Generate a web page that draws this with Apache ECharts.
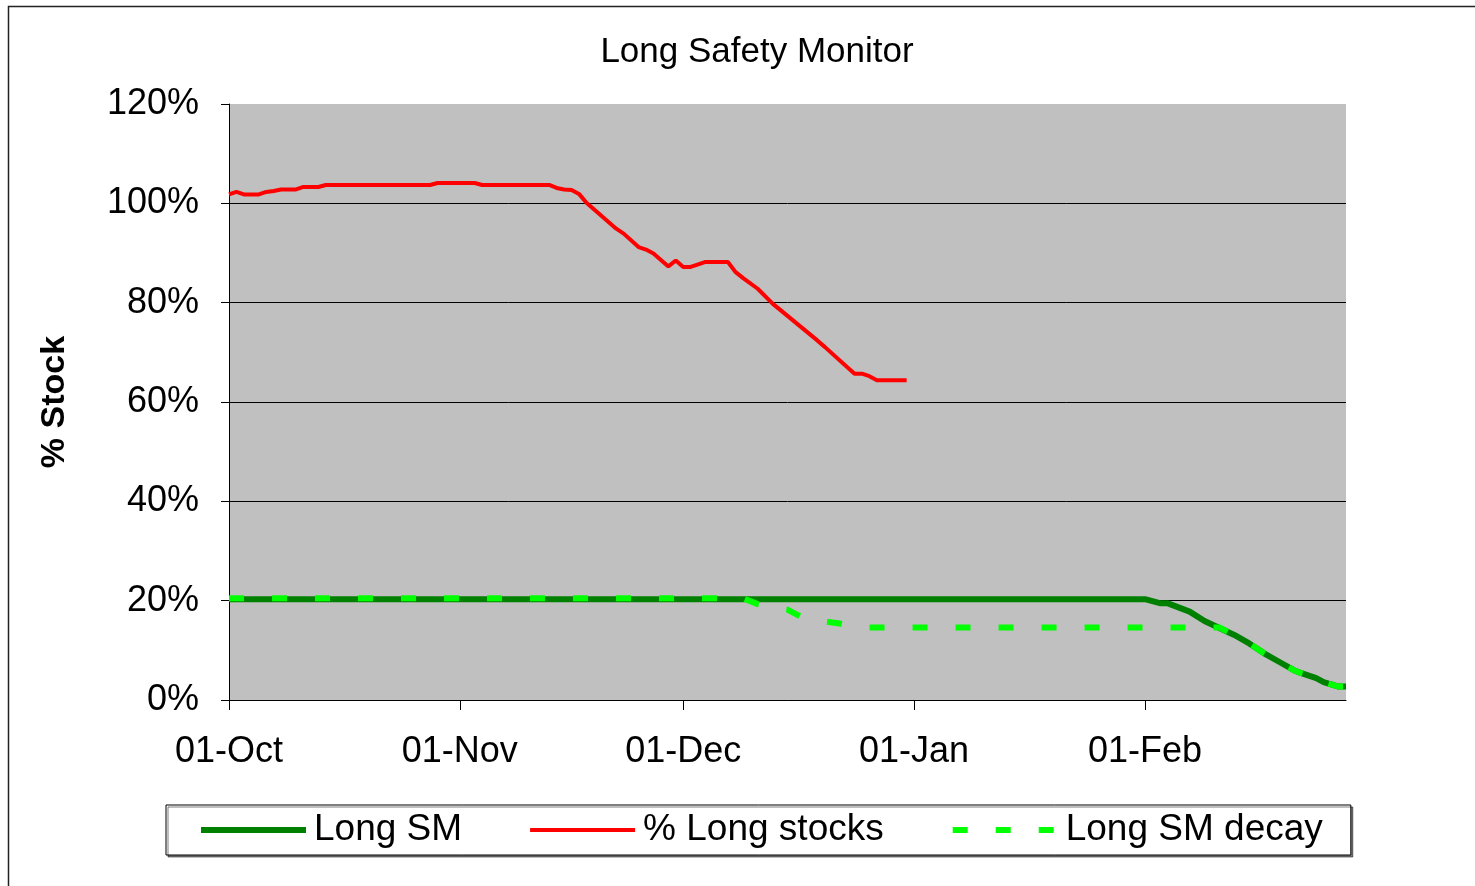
<!DOCTYPE html>
<html>
<head>
<meta charset="utf-8">
<title>Long Safety Monitor</title>
<script src="https://cdn.jsdelivr.net/npm/echarts@6/dist/echarts.min.js"></script>
<style>
  html, body { margin: 0; padding: 0; background: #fff; }
  #chart { width: 1475px; height: 886px; }
</style>
</head>
<body>
<div id="chart"></div>
<script>
// daily categories 01-Oct .. 28-Feb
var months = [['Oct', 31], ['Nov', 30], ['Dec', 31], ['Jan', 31], ['Feb', 28]];
var days = [];
months.forEach(function (m) {
  for (var d = 1; d <= m[1]; d++) {
    days.push((d < 10 ? '0' : '') + d + '-' + m[0]);
  }
});
var tickLabels = ['01-Oct', '01-Nov', '01-Dec', '01-Jan', '01-Feb'];

// Long SM (%)
var smDates  = ['01-Oct', '01-Feb', '03-Feb', '04-Feb', '07-Feb', '09-Feb', '10-Feb', '13-Feb',
                '15-Feb', '17-Feb', '19-Feb', '21-Feb', '22-Feb', '24-Feb', '25-Feb', '27-Feb', '28-Feb'];
var smValues = [20.3, 20.3, 19.5, 19.5, 17.8, 15.9, 15.2, 13.1,
                11.4, 9.4, 7.7, 6.0, 5.4, 4.4, 3.6, 2.7, 2.7];

// % Long stocks
var stockDates  = ['01-Oct', '02-Oct', '03-Oct', '05-Oct', '06-Oct', '07-Oct', '08-Oct', '10-Oct',
                   '11-Oct', '13-Oct', '14-Oct', '28-Oct', '29-Oct', '03-Nov', '04-Nov', '13-Nov',
                   '14-Nov', '15-Nov', '16-Nov', '17-Nov', '18-Nov', '22-Nov', '23-Nov', '25-Nov',
                   '26-Nov', '27-Nov', '29-Nov', '30-Nov', '01-Dec', '02-Dec', '04-Dec', '07-Dec',
                   '08-Dec', '09-Dec', '11-Dec', '13-Dec', '19-Dec', '20-Dec', '24-Dec', '25-Dec',
                   '26-Dec', '27-Dec', '31-Dec'];
var stockValues = [101.8, 102.3, 101.8, 101.8, 102.3, 102.5, 102.8, 102.8,
                   103.3, 103.3, 103.7, 103.7, 104.1, 104.1, 103.7, 103.7,
                   103.1, 102.8, 102.7, 101.9, 100.1, 94.9, 93.9, 91.2,
                   90.7, 89.9, 87.3, 88.5, 87.2, 87.2, 88.2, 88.2,
                   86.2, 85.0, 82.8, 79.8, 72.4, 71.1, 65.7, 65.7,
                   65.2, 64.4, 64.4];

// Long SM decay (%)
var decayDates  = ['01-Oct', '09-Dec', '11-Dec', '13-Dec', '15-Dec', '17-Dec', '20-Dec', '22-Dec',
                   '24-Dec', '26-Dec', '11-Feb', '13-Feb', '15-Feb', '17-Feb', '19-Feb', '21-Feb',
                   '22-Feb', '24-Feb', '25-Feb', '27-Feb', '28-Feb'];
var decayValues = [20.5, 20.5, 19.3, 18.7, 18.2, 16.6, 15.8, 15.4,
                   14.8, 14.6, 14.6, 13.1, 11.4, 9.4, 7.7, 6.0,
                   5.4, 4.4, 3.6, 2.7, 2.7];

function pairs(xs, ys) {
  return xs.map(function (x, i) { return [x, ys[i]]; });
}
function isTick(index, value) {
  return tickLabels.indexOf(value) >= 0;
}

var chart = echarts.init(document.getElementById('chart'));
var font = 'Arial, "Liberation Sans", sans-serif';

chart.setOption({
  animation: false,
  backgroundColor: '#fff',
  textStyle: { fontFamily: font, color: '#000' },
  graphic: [{
    type: 'rect',
    silent: true,
    shape: { x: 8.5, y: 6.5, width: 1500, height: 900 },
    style: { fill: 'none', stroke: '#222', lineWidth: 1.5 }
  }],
  title: {
    text: 'Long Safety Monitor',
    left: 752,
    top: 30,
    textAlign: 'center',
    textStyle: { fontFamily: font, fontSize: 35, fontWeight: 'normal', color: '#000' }
  },
  legend: {
    left: 166,
    top: 805,
    padding: [5, 28, 5, 32],
    itemGap: 66,
    itemWidth: 105,
    itemHeight: 14,
    backgroundColor: '#fff',
    borderColor: '#000',
    borderWidth: 1,
    shadowColor: 'rgba(0,0,0,0.5)',
    shadowOffsetX: 2,
    shadowOffsetY: 2,
    textStyle: { fontFamily: font, fontSize: 37, color: '#000', lineHeight: 40, padding: [0, 0, 0, 3] },
    data: [
      { name: 'Long SM', itemStyle: { opacity: 0 }, lineStyle: { width: 6 } },
      { name: '% Long stocks', itemStyle: { opacity: 0 }, lineStyle: { width: 4 } },
      { name: 'Long SM decay', itemStyle: { opacity: 0 }, lineStyle: { width: 6 } }
    ]
  },
  grid: {
    left: 229,
    top: 104,
    right: 129,
    bottom: 186,
    show: true,
    backgroundColor: '#c0c0c0',
    borderWidth: 0
  },
  xAxis: {
    type: 'category',
    data: days,
    boundaryGap: false,
    axisLine: { lineStyle: { color: '#000', width: 1 } },
    axisTick: { show: true, length: 10, interval: isTick, lineStyle: { color: '#000' } },
    axisLabel: {
      interval: isTick,
      margin: 34,
      fontFamily: font,
      fontSize: 36,
      color: '#000'
    },
    splitLine: { show: false }
  },
  yAxis: {
    type: 'value',
    min: 0,
    max: 120,
    interval: 20,
    name: '% Stock',
    nameLocation: 'middle',
    nameGap: 157,
    nameTextStyle: { fontFamily: font, fontSize: 34, fontWeight: 'bold', color: '#000' },
    axisLine: { show: true, lineStyle: { color: '#000', width: 1 } },
    axisTick: { show: true, length: 8, lineStyle: { color: '#000' } },
    axisLabel: {
      formatter: '{value}%',
      margin: 30,
      fontFamily: font,
      fontSize: 36,
      color: '#000'
    },
    splitLine: { show: true, showMaxLine: false, lineStyle: { color: '#000', width: 1 } }
  },
  series: [
    {
      name: 'Long SM',
      type: 'line',
      data: pairs(smDates, smValues),
      showSymbol: false,
      symbol: 'none',
      itemStyle: { color: '#008000' },
      lineStyle: { color: '#008000', width: 6 },
      z: 2
    },
    {
      name: '% Long stocks',
      type: 'line',
      data: pairs(stockDates, stockValues),
      showSymbol: false,
      symbol: 'none',
      itemStyle: { color: '#ff0000' },
      lineStyle: { color: '#ff0000', width: 4 },
      z: 3
    },
    {
      name: 'Long SM decay',
      type: 'line',
      data: pairs(decayDates, decayValues),
      showSymbol: false,
      symbol: 'none',
      itemStyle: { color: '#00ff00' },
      lineStyle: { color: '#00ff00', width: 6, type: [15, 28] },
      z: 4
    }
  ]
});
</script>
</body>
</html>
